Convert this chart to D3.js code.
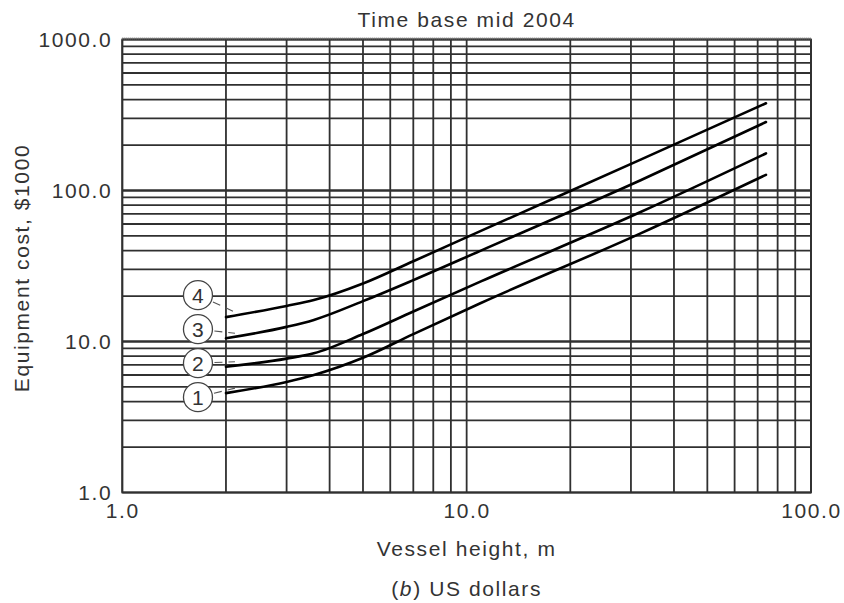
<!DOCTYPE html>
<html>
<head>
<meta charset="utf-8">
<script src="https://cdn.jsdelivr.net/npm/d3@7"></script>
<style>
  body { margin: 0; background: #fff; }
  svg { display: block; font-family: "Liberation Sans", Arial, sans-serif; }
  .lbl { fill: #333; font-size: 21px; letter-spacing: 1.6px; }
</style>
</head>
<body>
<svg id="chart" width="844" height="603"></svg>
<script>
// vessel height (m), shared by all four curves
const heights = [2, 3, 3.6, 5, 7, 11, 32, 74];
// equipment cost, $1000
const cost1 = [4.55, 5.4, 6.0, 7.8, 11.2, 18, 52, 127];
const cost2 = [6.8, 7.7, 8.35, 11.2, 15.8, 25, 72, 176];
const cost3 = [10.5, 12.5, 13.9, 18.5, 25.5, 40, 117, 284];
const cost4 = [14.5, 17.2, 18.8, 24.2, 34, 54, 160, 378];
const seriesNames = ["1", "2", "3", "4"];

const xTickLabels = [1, 10, 100];
const yTickLabels = [1, 10, 100, 1000];

const margin = {left: 122.3, right: 33, top: 39.5, bottom: 110.5};
const svg = d3.select("#chart");
const W = +svg.attr("width"), H = +svg.attr("height");
const width = W - margin.left - margin.right;
const height = H - margin.top - margin.bottom;

const x = d3.scaleLog().domain([1, 100]).range([0, width]);
const y = d3.scaleLog().domain([1, 1000]).range([height, 0]);

const g = svg.append("g").attr("transform", `translate(${margin.left},${margin.top})`);

// grid
const grid = g.append("g").attr("class", "grid");
grid.selectAll("line.v")
  .data(x.ticks())
  .enter().append("line")
  .attr("class", "v")
  .attr("x1", d => x(d)).attr("x2", d => x(d))
  .attr("y1", 0).attr("y2", height)
  .attr("stroke", "#303030")
  .attr("stroke-width", 1.8);

grid.selectAll("line.h")
  .data(y.ticks())
  .enter().append("line")
  .attr("class", "h")
  .attr("x1", 0).attr("x2", width)
  .attr("y1", d => y(d)).attr("y2", d => y(d))
  .attr("stroke", "#303030")
  .attr("stroke-width", d => (d === 100 || d === 10) ? 2.6 : 1.8);

g.append("rect")
  .attr("width", width).attr("height", height)
  .attr("fill", "none")
  .attr("stroke", "#303030")
  .attr("stroke-width", 1.8);

// top edge is drawn hatched in the original
g.append("line")
  .attr("x1", 0).attr("x2", width)
  .attr("y1", -1).attr("y2", -1)
  .attr("stroke", "#777")
  .attr("stroke-width", 2)
  .attr("stroke-dasharray", "1,1");

// axes labels (ticks come from the grid)
const xAxis = g.append("g")
  .attr("transform", `translate(0,${height})`)
  .call(d3.axisBottom(x).tickValues(xTickLabels).tickFormat(d3.format(".1f")).tickSize(0).tickPadding(7));
const yAxis = g.append("g")
  .call(d3.axisLeft(y).tickValues(yTickLabels).tickFormat(d3.format(".1f")).tickSize(0).tickPadding(10));
[xAxis, yAxis].forEach(a => {
  a.select(".domain").remove();
  a.selectAll("text")
    .attr("class", "lbl")
    .attr("font-size", null)
    .attr("font-family", null);
  a.attr("font-size", null).attr("font-family", null);
});
xAxis.selectAll("text").attr("dy", "0.9em");

// curves
const series = [cost1, cost2, cost3, cost4].map((vals, i) => ({
  name: seriesNames[i],
  values: heights.map((h, j) => ({h, c: vals[j]}))
}));

const line = d3.line()
  .x(d => x(d.h))
  .y(d => y(d.c))
  .curve(d3.curveMonotoneX);

g.selectAll("path.curve")
  .data(series)
  .enter().append("path")
  .attr("class", "curve")
  .attr("d", d => line(d.values))
  .attr("fill", "none")
  .attr("stroke", "#000")
  .attr("stroke-width", 2.6)
  .attr("stroke-linecap", "round");

// circled curve numbers with dashed leaders
const r = 14.5;
const cx = x(heights[0]) - 28;
const baseY = y(cost1[0]) + 4;
const tags = g.selectAll("g.tag")
  .data(series)
  .enter().append("g")
  .attr("class", "tag");

tags.each(function(d, i) {
  const view = d3.select(this);
  const cy = baseY - i * 34;
  const tx = x(heights[0]) + 9;
  const ty = y(d.values[0].c) - 5;
  const ang = Math.atan2(ty - cy, tx - cx);
  view.append("line")
    .attr("x1", cx + Math.cos(ang) * (r + 2))
    .attr("y1", cy + Math.sin(ang) * (r + 2))
    .attr("x2", tx).attr("y2", ty)
    .attr("stroke", "#555")
    .attr("stroke-width", 1.1)
    .attr("stroke-dasharray", "8,6");
  view.append("circle")
    .attr("cx", cx).attr("cy", cy).attr("r", r)
    .attr("fill", "#fff")
    .attr("stroke", "#444")
    .attr("stroke-width", 1.3);
  view.append("text")
    .attr("class", "lbl")
    .attr("x", cx).attr("y", cy)
    .attr("dy", "0.36em")
    .attr("text-anchor", "middle")
    .style("letter-spacing", "0px")
    .text(d.name);
});

// titles
svg.append("text")
  .attr("class", "lbl")
  .attr("x", margin.left + x(10)).attr("y", 26.5)
  .attr("text-anchor", "middle")
  .text("Time base mid 2004");

svg.append("text")
  .attr("class", "lbl")
  .attr("x", margin.left + x(10)).attr("y", 556)
  .attr("text-anchor", "middle")
  .text("Vessel height, m");

const cap = svg.append("text")
  .attr("class", "lbl")
  .attr("x", margin.left + x(10)).attr("y", 596)
  .attr("text-anchor", "middle");
cap.append("tspan").text("(");
cap.append("tspan").style("font-style", "italic").text("b");
cap.append("tspan").text(") US dollars");

svg.append("text")
  .attr("class", "lbl")
  .attr("transform", `translate(29,${margin.top + height / 2 + 2}) rotate(-90)`)
  .attr("text-anchor", "middle")
  .text("Equipment cost, $1000");
</script>
</body>
</html>
